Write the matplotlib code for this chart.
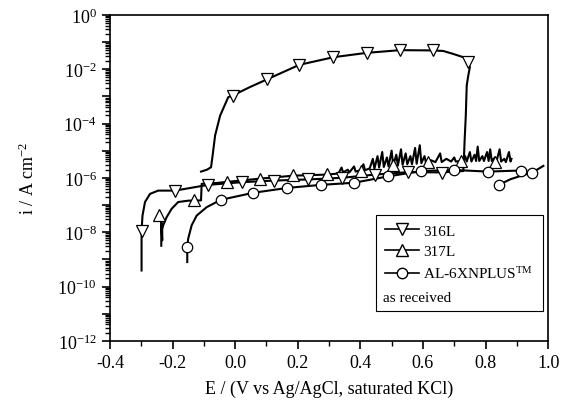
import matplotlib.pyplot as plt
import matplotlib.ticker as mticker
import numpy as np

plt.rcParams['font.family'] = ['Liberation Serif', 'DejaVu Serif']
plt.rcParams['mathtext.fontset'] = 'custom'
plt.rcParams['mathtext.rm'] = 'Liberation Serif'
plt.rcParams['mathtext.it'] = 'Liberation Serif:italic'
plt.rcParams['axes.unicode_minus'] = False

# potentials (V) and log10 of current density (A/cm2)
# 316L: forward scan, jump at pitting potential, reverse scan
e_316 = [-0.299, -0.299, -0.296, -0.288, -0.272, -0.246, -0.192, -0.107, -0.088,
         0.021, 0.125, 0.232, 0.340, 0.447, 0.553, 0.660, 0.729,
         0.731, 0.733, 0.737, 0.740, 0.745, 0.750, 0.745, 0.729, 0.697, 0.665,
         0.633, 0.527, 0.420, 0.314, 0.205, 0.101, 0.047, -0.008, -0.022,
         -0.048, -0.064, -0.072, -0.077, -0.090, -0.109]
logi_316 = [-9.41, -7.94, -7.39, -6.89, -6.59, -6.47, -6.47, -6.30, -6.26,
            -6.16, -6.10, -6.06, -6.00, -5.88, -5.79, -5.80, -5.75,
            -5.30, -4.69, -3.71, -2.60, -2.23, -1.93, -1.72, -1.56, -1.44, -1.33,
            -1.31, -1.30, -1.40, -1.56, -1.84, -2.38, -2.66, -2.97, -3.03,
            -3.71, -4.44, -5.18, -5.61, -5.70, -5.77]
mk_e_316 = [-0.299, -0.192, -0.088, 0.021, 0.125, 0.232, 0.340, 0.447, 0.553, 0.660,
            0.745, 0.633, 0.527, 0.420, 0.314, 0.205, 0.101, -0.008]
mk_logi_316 = [-7.94, -6.50, -6.28, -6.16, -6.10, -6.06, -6.00, -5.88, -5.79, -5.82,
               -1.72, -1.31, -1.31, -1.40, -1.56, -1.84, -2.38, -2.97]

# 317L: forward scan with metastable pitting noise
e_317 = [-0.236, -0.236, -0.233, -0.233, -0.230, -0.219, -0.203, -0.182, -0.150,
         -0.109, -0.107, -0.060, -0.027, 0.079, 0.186, 0.293, 0.330,
         0.340, 0.345, 0.360, 0.365, 0.380, 0.385, 0.400, 0.410, 0.415, 0.430,
         0.440, 0.445, 0.455, 0.460, 0.470, 0.475, 0.485, 0.490, 0.500, 0.505,
         0.515, 0.520, 0.530, 0.535, 0.545, 0.550, 0.560, 0.565, 0.575, 0.580,
         0.590, 0.595, 0.605, 0.610, 0.625, 0.640, 0.655, 0.660, 0.675, 0.690,
         0.700, 0.705, 0.720, 0.735, 0.740, 0.750, 0.755, 0.765, 0.770, 0.775,
         0.780, 0.790, 0.795, 0.805, 0.810, 0.815, 0.820, 0.830, 0.835, 0.845,
         0.850, 0.860, 0.865, 0.875, 0.880, 0.883]
logi_317 = [-8.50, -7.60, -8.30, -7.90, -7.75, -7.45, -7.14, -6.89, -6.84,
            -6.83, -6.22, -6.19, -6.15, -6.03, -5.92, -5.88, -5.84,
            -5.62, -5.80, -5.70, -5.80, -5.58, -5.77, -5.72, -5.50, -5.72, -5.65,
            -5.30, -5.66, -5.20, -5.62, -5.05, -5.60, -5.25, -5.58, -5.00, -5.55,
            -5.15, -5.55, -4.95, -5.52, -5.10, -5.50, -5.20, -5.50, -4.90, -5.48,
            -4.80, -5.46, -5.20, -5.45, -5.35, -5.42, -5.10, -5.42, -5.30, -5.40,
            -5.25, -5.40, -5.38, -5.20, -5.40, -5.05, -5.40, -5.15, -5.38, -4.85,
            -5.38, -5.20, -5.38, -5.05, -5.38, -4.95, -5.38, -5.25, -5.40, -4.95,
            -5.40, -5.30, -5.42, -5.05, -5.40, -5.30]
mk_e_317 = [-0.242, -0.131, -0.027, 0.079, 0.186, 0.293, 0.401, 0.505, 0.615, 0.722, 0.830]
mk_logi_317 = [-7.36, -6.83, -6.16, -6.04, -5.88, -5.86, -5.75, -5.52, -5.42, -5.38, -5.40]

# AL-6XN PLUS as received: forward scan and short return branch
e_al = [-0.153, -0.153, -0.150, -0.139, -0.123, -0.091, -0.046, 0.058, 0.167,
        0.273, 0.380, 0.487, 0.594, 0.700, 0.807, 0.913, 0.930]
logi_al = [-9.10, -8.56, -8.24, -7.75, -7.39, -7.08, -6.81, -6.55, -6.37,
           -6.26, -6.18, -5.95, -5.75, -5.71, -5.77, -5.73, -5.72]
e_al_b = [0.844, 0.880, 0.920, 0.950, 0.985]
logi_al_b = [-6.25, -6.05, -5.90, -5.80, -5.56]
mk_e_al = [-0.153, -0.046, 0.058, 0.167, 0.273, 0.380, 0.487, 0.594, 0.700, 0.807,
           0.913, 0.844, 0.950]
mk_logi_al = [-8.56, -6.81, -6.55, -6.37, -6.26, -6.18, -5.95, -5.75, -5.71, -5.77,
              -5.73, -6.28, -5.81]

fig = plt.figure(figsize=(5.61, 4.06), dpi=100)
ax = fig.add_axes([0.196, 0.158, 0.781, 0.803])

lw = 1.5
mstyle = dict(markerfacecolor='white', markeredgecolor='black', markeredgewidth=0.9,
              linestyle='none', zorder=3)

ax.plot(e_316, 10 ** np.array(logi_316), color='black', lw=lw)
ax.plot(mk_e_316, 10 ** np.array(mk_logi_316), marker='v', markersize=8.5, **mstyle)
ax.plot(e_317, 10 ** np.array(logi_317), color='black', lw=lw)
ax.plot(mk_e_317, 10 ** np.array(mk_logi_317), marker='^', markersize=8.5, **mstyle)
ax.plot(e_al, 10 ** np.array(logi_al), color='black', lw=lw)
ax.plot(e_al_b, 10 ** np.array(logi_al_b), color='black', lw=lw)
ax.plot(mk_e_al, 10 ** np.array(mk_logi_al), marker='o', markersize=7.5, **mstyle)

ax.set_yscale('log')
ax.set_xlim(-0.4, 1.0)
ax.set_ylim(1e-12, 1e0)
ax.xaxis.set_major_locator(mticker.MultipleLocator(0.2))
ax.xaxis.set_minor_locator(mticker.MultipleLocator(0.1))
ax.xaxis.set_major_formatter(mticker.FormatStrFormatter('%.1f'))
ax.yaxis.set_major_locator(mticker.LogLocator(base=10, numticks=20))
ax.yaxis.set_minor_locator(mticker.LogLocator(base=10, subs=np.arange(2, 10), numticks=20))
ax.yaxis.set_major_formatter(mticker.FuncFormatter(
    lambda v, p: '$10^{%d}$' % round(np.log10(v)) if round(np.log10(v)) % 2 == 0 else ''))
ax.yaxis.set_minor_formatter(mticker.NullFormatter())

ax.tick_params(which='major', direction='out', length=6, width=1.2, labelsize=13)
ax.tick_params(which='minor', direction='out', length=3.5, width=1)
for s in ax.spines.values():
    s.set_linewidth(1.2)

ax.set_xlabel('E / (V vs Ag/AgCl, saturated KCl)', fontsize=13, labelpad=6)
ax.set_ylabel('i / A cm$^{-2}$', fontsize=13, labelpad=14)

h1, = ax.plot([], [], color='black', lw=1.2, marker='v', markersize=8.5,
              markerfacecolor='white', markeredgecolor='black')
h2, = ax.plot([], [], color='black', lw=1.2, marker='^', markersize=8.5,
              markerfacecolor='white', markeredgecolor='black')
h3, = ax.plot([], [], color='black', lw=1.2, marker='o', markersize=7.5,
              markerfacecolor='white', markeredgecolor='black')
h4, = ax.plot([], [], color='none')
leg = ax.legend([h1, h2, h3, h4], ['316L', '317L', 'AL-6XNPLUS$^{\\mathrm{TM}}$', ' '],
                loc='upper left', bbox_to_anchor=(0.607, 0.387), fontsize=11,
                frameon=True, fancybox=False, edgecolor='black', framealpha=1,
                handlelength=2.2, handletextpad=0.3, labelspacing=0.45, borderpad=0.6,
                borderaxespad=0)
leg.get_frame().set_linewidth(0.8)
ax.text(0.623, 0.132, 'as received', transform=ax.transAxes, fontsize=11,
        va='center', ha='left', zorder=10)

fig.savefig('out.png', dpi=100)
